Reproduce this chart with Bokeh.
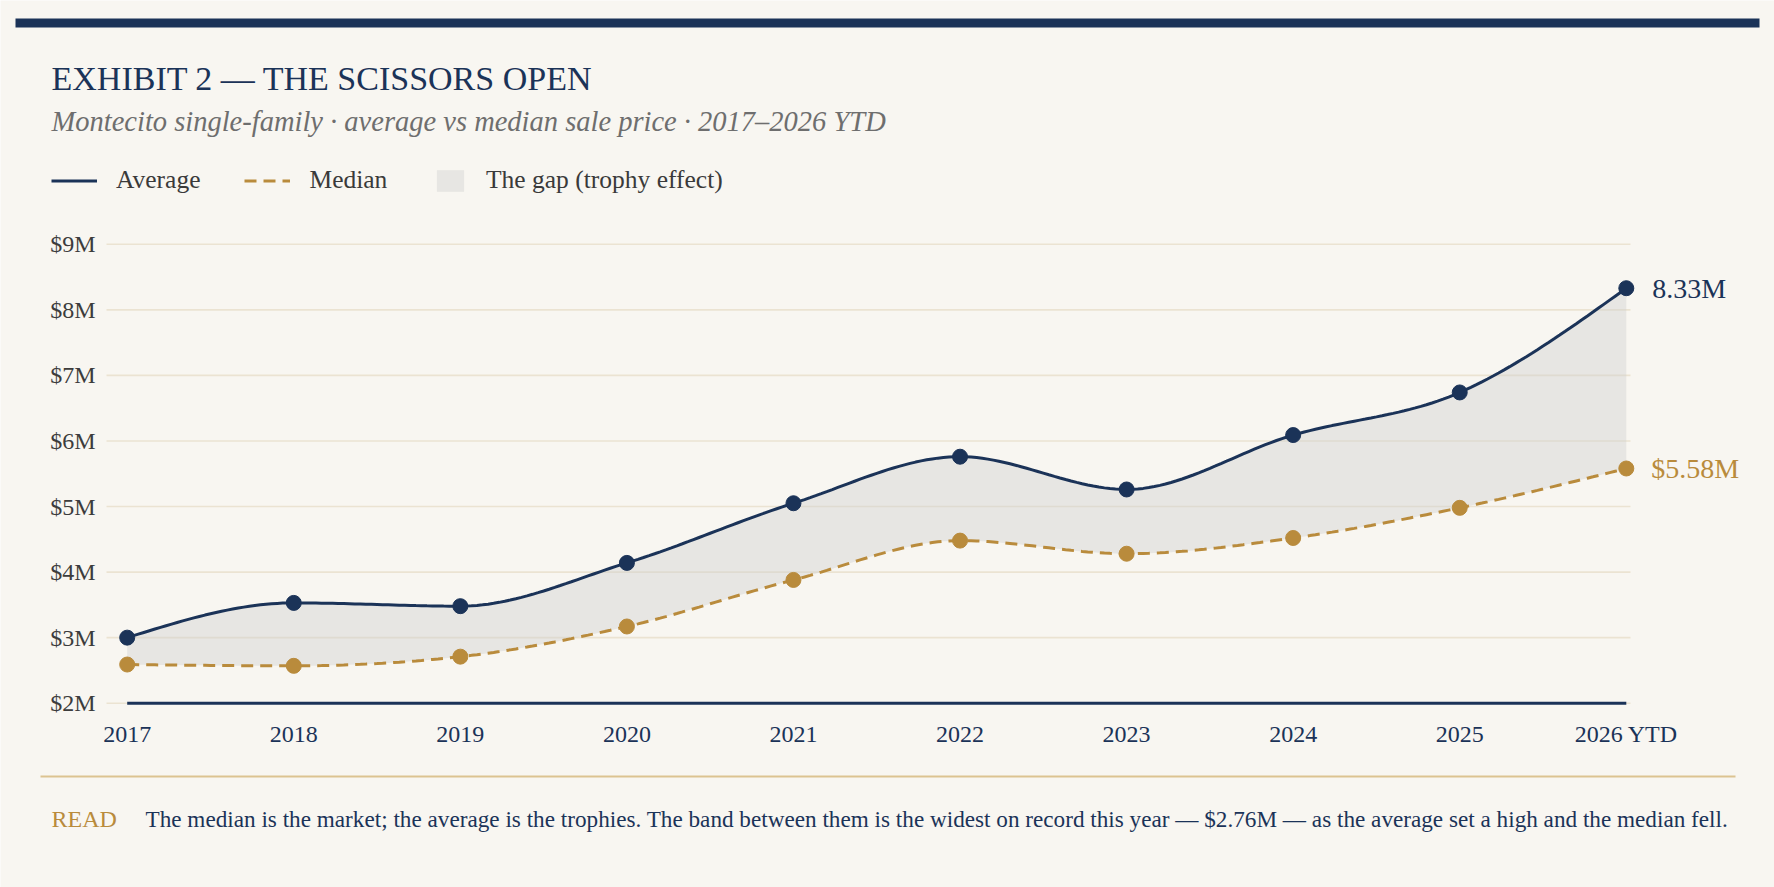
import numpy as np
from bokeh.plotting import figure
from bokeh.models import Range1d, FixedTicker, Label, BoxAnnotation, Legend, LegendItem
from bokeh.embed import file_html
from bokeh.resources import INLINE

# ---- data (USD millions) ----
years = ["2017", "2018", "2019", "2020", "2021", "2022", "2023", "2024", "2025", "2026 YTD"]
average_price = [3.00, 3.53, 3.48, 4.14, 5.05, 5.76, 5.26, 6.09, 6.74, 8.33]
median_price = [2.59, 2.57, 2.71, 3.17, 3.88, 4.48, 4.28, 4.52, 4.98, 5.58]
y_ticks = [2, 3, 4, 5, 6, 7, 8, 9]
y_tick_labels = ["$2M", "$3M", "$4M", "$5M", "$6M", "$7M", "$8M", "$9M"]

title_text = "EXHIBIT 2 \u2014 THE SCISSORS OPEN"
subtitle_text = "Montecito single-family \u00b7 average vs median sale price \u00b7 2017\u20132026 YTD"
note_tag = "READ"
note_text = ("The median is the market; the average is the trophies. The band between them is the "
             "widest on record this year \u2014 $2.76M \u2014 as the average set a high and the median fell.")

# ---- style ----
NAVY = "#1b3358"
GOLD = "#b98b3c"
BG = "#f8f6f1"
GRID = "#ebe3d2"
SERIF = "Liberation Serif"

W, H = 1774, 887

# pixel layout of the plotting area (canvas px, top-left origin)
X_FIRST_PX, X_LAST_PX = 126.7, 1625.8     # first / last year
Y_BASE_PX, PX_PER_M = 702.7, 65.56        # $2M line, pixels per $1M
GRID_LEFT_PX, GRID_RIGHT_PX = 106, 1630

n = len(years)
px_per_year = (X_LAST_PX - X_FIRST_PX) / (n - 1)


def xdata(px):
    return (px - X_FIRST_PX) / px_per_year


def ydata(py):
    return y_ticks[0] + (Y_BASE_PX - py) / PX_PER_M


def scr(cx, cy):
    """canvas pixel (top-left origin) -> screen units of the full-canvas frame"""
    return cx, H - cy


def monotone_curve(ys, samples=30):
    """monotone cubic (Fritsch-Carlson, as d3 curveMonotoneX) through evenly spaced points"""
    ys = np.asarray(ys, dtype=float)
    m = len(ys)
    s = np.diff(ys)
    t = np.zeros(m)
    for i in range(1, m - 1):
        s0, s1 = s[i - 1], s[i]
        p_ = (s0 + s1) / 2.0
        t[i] = (np.sign(s0) + np.sign(s1)) * min(abs(s0), abs(s1), 0.5 * abs(p_))
    t[0] = (3 * s[0] - t[1]) / 2.0
    t[-1] = (3 * s[-1] - t[-2]) / 2.0
    xs_out, ys_out = [], []
    for i in range(m - 1):
        u = np.linspace(0, 1, samples, endpoint=False)
        h00 = 2 * u**3 - 3 * u**2 + 1
        h10 = u**3 - 2 * u**2 + u
        h01 = -2 * u**3 + 3 * u**2
        h11 = u**3 - u**2
        xs_out.extend(i + u)
        ys_out.extend(h00 * ys[i] + h10 * t[i] + h01 * ys[i + 1] + h11 * t[i + 1])
    xs_out.append(m - 1)
    ys_out.append(ys[-1])
    return np.array(xs_out), np.array(ys_out)


idx = list(range(n))
cx, avg_curve = monotone_curve(average_price)
_, med_curve = monotone_curve(median_price)

# the frame covers the whole canvas; axes sit at fixed locations inside it
p = figure(width=W, height=H, output_backend="svg", toolbar_location=None,
           x_range=Range1d(xdata(0), xdata(W)), y_range=Range1d(ydata(H), ydata(0)),
           min_border=0)
p.background_fill_color = BG
p.border_fill_color = BG
p.outline_line_color = None

# axes
p.xaxis.ticker = FixedTicker(ticks=idx)
p.xaxis.major_label_overrides = {i: years[i] for i in idx}
p.yaxis.ticker = FixedTicker(ticks=y_ticks)
p.yaxis.major_label_overrides = {v: lab for v, lab in zip(y_ticks, y_tick_labels)}
for ax in (p.xaxis[0], p.yaxis[0]):
    ax.axis_line_color = None
    ax.major_tick_line_color = None
    ax.minor_tick_line_color = None
    ax.major_tick_out = 0
    ax.major_tick_in = 0
    ax.minor_tick_out = 0
    ax.minor_tick_in = 0
    ax.major_label_text_font = SERIF
    ax.major_label_text_font_size = "24px"
p.xaxis.fixed_location = ydata(711)
p.xaxis.major_label_text_color = NAVY
p.xaxis.major_label_standoff = 9
p.yaxis.fixed_location = xdata(GRID_LEFT_PX)
p.yaxis.major_label_text_color = "#3c3c3c"
p.yaxis.major_label_standoff = 11

p.grid.grid_line_color = None
p.segment(x0=[xdata(GRID_LEFT_PX)] * len(y_ticks), x1=[xdata(GRID_RIGHT_PX)] * len(y_ticks),
          y0=y_ticks, y1=y_ticks, line_color=GRID, line_width=1.6)

# gap band, lines, points
band = p.varea(x=cx, y1=med_curve, y2=avg_curve, fill_color="#cfcfcf", fill_alpha=0.42)
p.line(x=[idx[0], idx[-1]], y=[y_ticks[0], y_ticks[0]], line_color=NAVY, line_width=3)
avg_line = p.line(x=cx, y=avg_curve, line_color=NAVY, line_width=3)
med_line = p.line(x=cx, y=med_curve, line_color=GOLD, line_width=3, line_dash="12 7")
p.scatter(x=idx, y=average_price, size=15, color=NAVY)
p.scatter(x=idx, y=median_price, size=15, color=GOLD)

# end-of-series value labels
p.add_layout(Label(x=idx[-1], y=average_price[-1], text=f"{average_price[-1]:.2f}M",
                   x_offset=26, text_baseline="middle", text_font=SERIF,
                   text_font_size="28px", text_color=NAVY))
p.add_layout(Label(x=idx[-1], y=median_price[-1], text=f"${median_price[-1]:.2f}M",
                   x_offset=25, text_baseline="middle", text_font=SERIF,
                   text_font_size="28px", text_color=GOLD))

# legend: line series, then the shaded gap
legend_style = dict(orientation="horizontal", glyph_height=27, label_standoff=19,
                    padding=0, margin=0, border_line_color=None, background_fill_alpha=0,
                    label_text_font=SERIF, label_text_font_size="25.5px",
                    label_text_color="#3a3a3a")
p.add_layout(Legend(items=[LegendItem(label="Average", renderers=[avg_line]),
                           LegendItem(label="Median", renderers=[med_line])],
                    location=scr(51, 195), glyph_width=46, spacing=44, **legend_style),
             "center")
p.add_layout(Legend(items=[LegendItem(label="The gap (trophy effect)", renderers=[band])],
                    location=scr(433, 195), glyph_width=34, **legend_style),
             "center")

# header
_, bar_top = scr(0, 18)
p.add_layout(BoxAnnotation(left=15, right=1759, top=bar_top, bottom=bar_top - 9,
                           left_units="screen", right_units="screen",
                           top_units="screen", bottom_units="screen",
                           fill_color=NAVY, fill_alpha=1, line_color=None))
tx, ty = scr(51, 78)
p.add_layout(Label(x=tx, y=ty, x_units="screen", y_units="screen", text=title_text,
                   text_baseline="middle", text_font=SERIF, text_font_size="34px",
                   text_color=NAVY))
tx, ty = scr(51, 121)
p.add_layout(Label(x=tx, y=ty, x_units="screen", y_units="screen", text=subtitle_text,
                   text_baseline="middle", text_font=SERIF, text_font_style="italic",
                   text_font_size="28.5px", text_color="#6e6e6e"))

# footer
_, sep_y = scr(0, 776)
p.add_layout(BoxAnnotation(left=40, right=1735, top=sep_y + 1, bottom=sep_y - 1,
                           left_units="screen", right_units="screen",
                           top_units="screen", bottom_units="screen",
                           fill_color="#dcc391", fill_alpha=1, line_color=None))
tx, ty = scr(51, 818)
p.add_layout(Label(x=tx, y=ty, x_units="screen", y_units="screen", text=note_tag,
                   text_baseline="middle", text_font=SERIF, text_font_size="24px",
                   text_color=GOLD))
tx, ty = scr(145, 818)
p.add_layout(Label(x=tx, y=ty, x_units="screen", y_units="screen", text=note_text,
                   text_baseline="middle", text_font=SERIF, text_font_size="23.2px",
                   text_color=NAVY))

open("out.html", "w").write(file_html(p, INLINE))
